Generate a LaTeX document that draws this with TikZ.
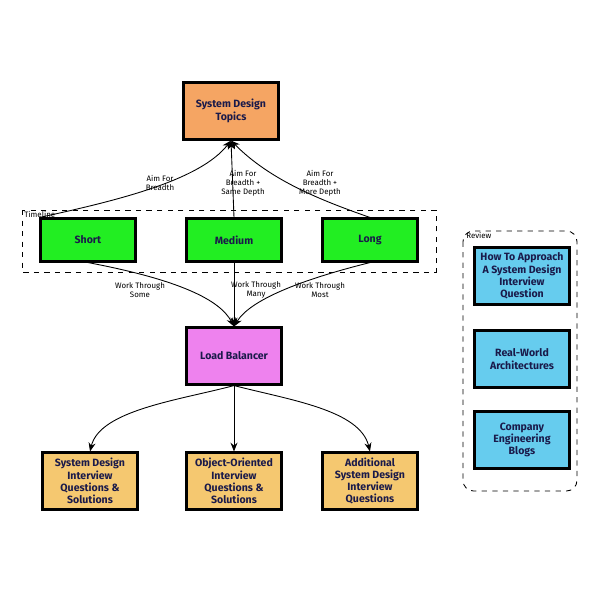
\documentclass[tikz,border=0pt]{standalone}
\usepackage{fontspec}
\setmainfont{Fira Sans}
\usetikzlibrary{arrows.meta}
\definecolor{corange}{HTML}{F5A563}
\definecolor{cgreen}{HTML}{22EE22}
\definecolor{cpink}{HTML}{EE82EE}
\definecolor{cyel}{HTML}{F5C870}
\definecolor{cblue}{HTML}{66CCEE}
\definecolor{ctext}{HTML}{1A1A4A}
\begin{document}
\begin{tikzpicture}[x=0.02cm,y=-0.02cm,
 box/.style={draw=black,line width=1.2pt,minimum width=1.9cm,minimum height=1.14cm,align=center,font=\fontsize{6}{7}\selectfont\bfseries,text=ctext,inner sep=1pt},
 lbl/.style={font=\fontsize{4.5}{5}\selectfont,align=center,inner sep=0pt},
 arr/.style={-{Stealth[length=5pt,width=4pt]},line width=0.5pt},
 frame/.style={draw,dashed,line width=0.5pt}]
\useasboundingbox (0,0) rectangle (600,600);
\node[box,fill=corange] (topics) at (231,111) {System Design\\Topics};
\draw[frame] (22,210) rectangle (436,272);
\node[lbl,anchor=north west] (tl) at (24,211) {Timeline};
\node[box,fill=cgreen,minimum height=0.86cm] (short) at (88,240) {Short};
\node[box,fill=cgreen,minimum height=0.86cm] (medium) at (234,240) {Medium};
\node[box,fill=cgreen,minimum height=0.86cm] (long) at (370,240) {Long};
\node[box,fill=cpink] (lb) at (234,356) {Load Balancer};
\node[box,fill=cyel] (b1) at (90,481) {System Design\\Interview\\Questions \&\\Solutions};
\node[box,fill=cyel] (b2) at (234,481) {Object-Oriented\\Interview\\Questions \&\\Solutions};
\node[box,fill=cyel] (b3) at (370,481) {Additional\\System Design\\Interview\\Questions};
\draw[frame,rounded corners=6pt] (463,231) rectangle (577,491);
\node[lbl,anchor=north west] (rv) at (466,232) {Review};
\node[box,fill=cblue] (r1) at (522,276) {How To Approach\\A System Design\\Interview\\Question};
\node[box,fill=cblue] (r2) at (522,359) {Real-World\\Architectures};
\node[box,fill=cblue] (r3) at (522,440) {Company\\Engineering\\Blogs};
\draw[arr] (short.north west) .. controls (120,200) and (200,180) .. (topics.south);
\draw[arr] (medium.north) -- (topics.south);
\draw[arr] (long.north) .. controls (320,200) and (270,180) .. (topics.south);
\draw[arr] (short.south) .. controls (180,280) and (220,300) .. (lb.north);
\draw[arr] (medium.south) -- (lb.north);
\draw[arr] (long.south) .. controls (300,280) and (250,300) .. (lb.north);
\draw[arr] (lb.south) .. controls (180,400) and (100,410) .. (b1.north);
\draw[arr] (lb.south) -- (b2.north);
\draw[arr] (lb.south) .. controls (290,400) and (360,410) .. (b3.north);
\node[lbl] (l1) at (160,183) {Aim For\\Breadth};
\node[lbl] (l2) at (243,183) {Aim For\\Breadth +\\Same Depth};
\node[lbl] (l3) at (320,183) {Aim For\\Breadth +\\More Depth};
\node[lbl] (l4) at (140,290) {Work Through\\Some};
\node[lbl] (l5) at (256,290) {Work Through\\Many};
\node[lbl] (l6) at (320,290) {Work Through\\Most};
\end{tikzpicture}
\end{document}
